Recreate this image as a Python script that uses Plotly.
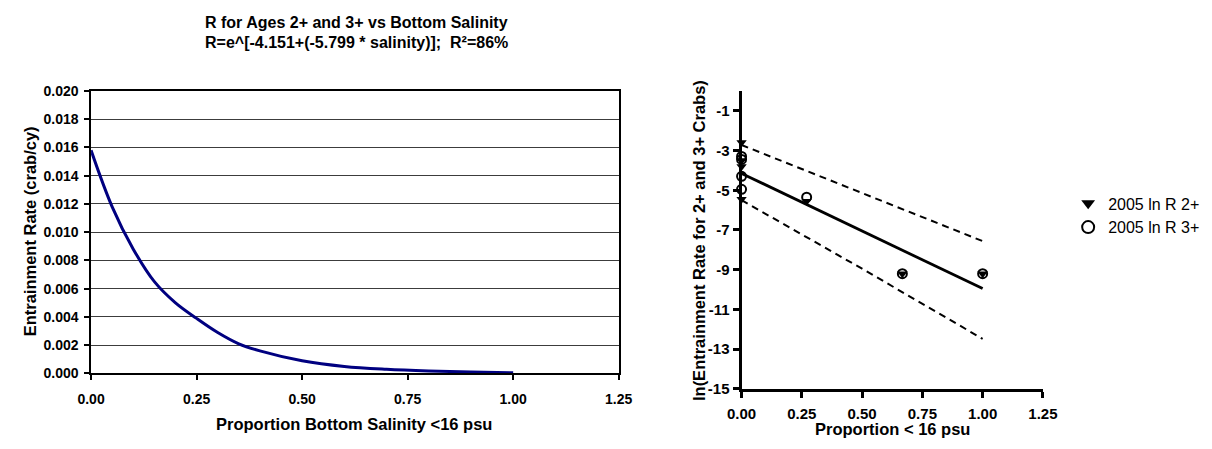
import plotly.graph_objects as go

# ---- Left panel: fitted entrainment rate vs proportion of low bottom salinity ----
prop_x = [0.0, 0.05, 0.10, 0.15, 0.20, 0.25, 0.30, 0.35, 0.40, 0.50, 0.60, 0.70, 0.80, 0.90, 1.00]
rate_y = [0.0158, 0.0118, 0.0088, 0.0065, 0.0050, 0.0039, 0.0029, 0.0021, 0.0016,
          0.0009, 0.0005, 0.0003, 0.00018, 0.0001, 0.00005]

# ---- Right panel: log entrainment rates, 2005 ----
r2_x = [0.0, 0.0, 0.0, 0.0, 0.27, 0.667, 1.0]
r2_y = [-2.6, -3.5, -3.8, -5.45, -5.55, -9.2, -9.2]
r3_x = [0.0, 0.0, 0.0, 0.0, 0.27, 0.667, 1.0]
r3_y = [-3.3, -3.45, -4.3, -4.95, -5.35, -9.2, -9.2]

fit_x = [0.0, 1.0]
fit_y = [-4.151, -9.95]
upper_x = [0.0, 0.5, 1.0]
upper_y = [-2.72, -5.15, -7.56]
lower_x = [0.0, 0.5, 1.0]
lower_y = [-5.5, -8.95, -12.48]

x_ticks = [0.0, 0.25, 0.5, 0.75, 1.0, 1.25]
left_y_ticks = [0.000, 0.002, 0.004, 0.006, 0.008, 0.010, 0.012, 0.014, 0.016, 0.018, 0.020]
right_y_ticks = [-1, -3, -5, -7, -9, -11, -13, -15]
right_y_labels = ["-1", "-3", "-5", "-7", "-9", "-11", "-13", "-15"]

FONT = "Arial, Liberation Sans, sans-serif"
W, H = 1212, 449

fig = go.Figure()

fig.add_trace(go.Scatter(
    x=prop_x, y=rate_y, mode="lines", line=dict(color="#000080", width=3, shape="spline"),
    xaxis="x", yaxis="y", showlegend=False, hoverinfo="skip"))

fig.add_trace(go.Scatter(
    x=upper_x, y=upper_y, mode="lines", line=dict(color="black", width=2, dash="7px,5px"),
    xaxis="x2", yaxis="y2", showlegend=False, cliponaxis=False))
fig.add_trace(go.Scatter(
    x=lower_x, y=lower_y, mode="lines", line=dict(color="black", width=2, dash="7px,5px"),
    xaxis="x2", yaxis="y2", showlegend=False, cliponaxis=False))
fig.add_trace(go.Scatter(
    x=fit_x, y=fit_y, mode="lines", line=dict(color="black", width=2.8),
    xaxis="x2", yaxis="y2", showlegend=False, cliponaxis=False))

fig.add_trace(go.Scatter(
    x=r2_x, y=r2_y, mode="markers", name="2005 ln R 2+",
    marker=dict(symbol="triangle-down", size=9, color="black"),
    xaxis="x2", yaxis="y2", cliponaxis=False))
fig.add_trace(go.Scatter(
    x=r3_x, y=r3_y, mode="markers", name="2005 ln R 3+",
    marker=dict(symbol="circle-open", size=9, color="black", line=dict(width=2, color="black")),
    xaxis="x2", yaxis="y2", cliponaxis=False))

# Plot-area placement in pixels
L_x0, L_x1, L_top, L_bot = 78, 619, 86, 379
R_x0, R_x1, R_top, R_bot = 745, 1054, 86, 395

def px_x(p):
    return p / W

def px_y(p):
    return 1 - p / H

left_tick_font = dict(family=FONT, size=14, color="black", weight="bold")
right_tick_font = dict(family=FONT, size=15, color="black", weight="bold")

fig.update_layout(
    width=W, height=H,
    margin=dict(l=0, r=0, t=0, b=0),
    paper_bgcolor="white", plot_bgcolor="white",
    font=dict(family=FONT, color="black"),
    xaxis=dict(
        domain=[px_x(L_x0), px_x(L_x1)], anchor="y", range=[0, 1.25],
        tickvals=x_ticks, tickformat=".2f", tickfont=left_tick_font, ticklabelstandoff=7,
        showgrid=False, zeroline=False, showline=True, linecolor="black", linewidth=1.5,
        mirror=True, ticks="outside", ticklen=5, tickwidth=1.5, tickcolor="black"),
    yaxis=dict(
        domain=[px_y(L_bot), px_y(L_top)], anchor="x", range=[0, 0.020],
        tickvals=left_y_ticks, tickformat=".3f", tickfont=left_tick_font, ticklabelstandoff=3,
        showgrid=True, gridcolor="#3c3c3c", gridwidth=1,
        zeroline=False, showline=True, linecolor="black", linewidth=1.5,
        mirror=True, ticks="outside", ticklen=5, tickwidth=1.5, tickcolor="black"),
    xaxis2=dict(
        domain=[px_x(R_x0), px_x(R_x1)], anchor="y2", range=[0, 1.25],
        tickvals=x_ticks, tickformat=".2f", tickfont=right_tick_font, ticklabelstandoff=3,
        showgrid=False, zeroline=False, showline=True, linecolor="black", linewidth=3,
        ticks="outside", ticklen=6, tickwidth=2.5, tickcolor="black"),
    yaxis2=dict(
        domain=[px_y(R_bot), px_y(R_top)], anchor="x2", range=[-15, 0],
        tickvals=right_y_ticks, ticktext=right_y_labels, tickfont=right_tick_font,
        showgrid=False, zeroline=False, showline=True, linecolor="black", linewidth=3,
        ticks="outside", ticklen=6, tickwidth=2.5, tickcolor="black"),
    legend=dict(
        x=0.891, y=px_y(185), xanchor="left", yanchor="top",
        font=dict(family=FONT, size=16, color="black"),
        bgcolor="rgba(0,0,0,0)", tracegroupgap=0, itemsizing="constant"),
    showlegend=True,
)

title_font = dict(family=FONT, size=16, color="black", weight="bold")
axis_title_font = dict(family=FONT, size=16.5, color="black", weight="bold")
annotations = [
    dict(text="R for Ages 2+ and 3+ vs Bottom Salinity", x=px_x(350), y=px_y(15),
         xref="paper", yref="paper", showarrow=False, font=title_font, xanchor="center", yanchor="middle"),
    dict(text="R=e^[-4.151+(-5.799 * salinity)];  R²=86%", x=px_x(350), y=px_y(36),
         xref="paper", yref="paper", showarrow=False, font=title_font, xanchor="center", yanchor="middle"),
    dict(text="Entrainment Rate (crab/cy)", x=px_x(15), y=px_y(232), textangle=-90,
         xref="paper", yref="paper", showarrow=False, font=axis_title_font, xanchor="center", yanchor="middle"),
    dict(text="Proportion Bottom Salinity <16 psu", x=px_x(348), y=px_y(431),
         xref="paper", yref="paper", showarrow=False, font=axis_title_font, xanchor="center", yanchor="middle"),
    dict(text="ln(Entrainment Rate for 2+ and 3+ Crabs)", x=px_x(702), y=px_y(241), textangle=-90,
         xref="paper", yref="paper", showarrow=False, font=axis_title_font, xanchor="center", yanchor="middle"),
    dict(text="Proportion < 16 psu", x=px_x(900), y=px_y(437),
         xref="paper", yref="paper", showarrow=False, font=axis_title_font, xanchor="center", yanchor="middle"),
]
fig.update_layout(annotations=annotations)

fig.write_html("out.html")
